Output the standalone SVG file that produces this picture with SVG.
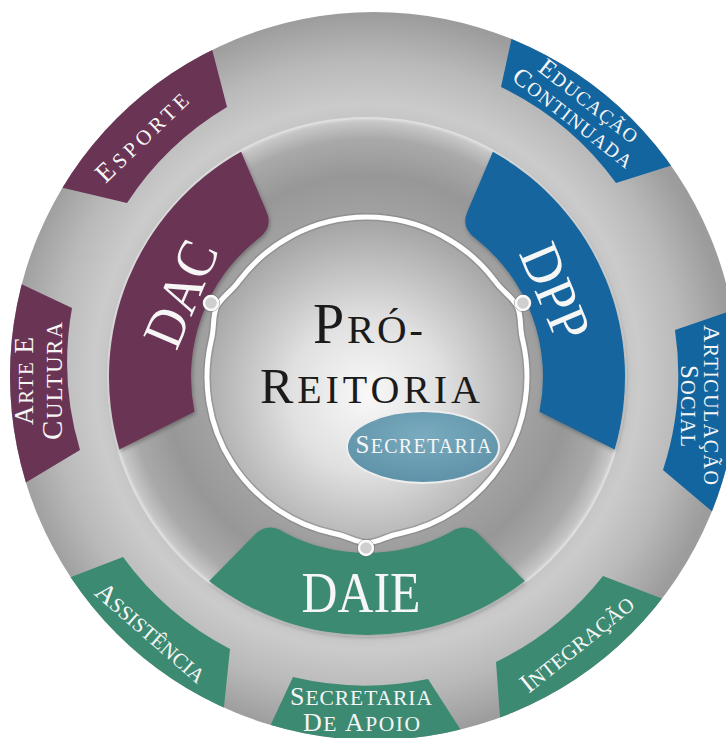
<svg xmlns="http://www.w3.org/2000/svg" width="726" height="738" viewBox="0 0 726 738">
<defs>
<style>
.t{font-family:"Liberation Serif","DejaVu Serif",serif;fill:#f6f6f6}
.dk{font-family:"Liberation Serif","DejaVu Serif",serif;fill:#1b1b1b}
.pur{fill:#6a3454}
.blu{fill:#13659f}
.grn{fill:#3c8a72}
.tab{clip-path:url(#clipOuter)}
.dot{fill:#cfcfcf;stroke:#fbfbfb;stroke-width:2.4}
.dotr{fill:none;stroke:#5a5a5a;stroke-opacity:.45;stroke-width:1}
</style>
<radialGradient id="gOuter" gradientUnits="userSpaceOnUse" cx="367" cy="377" r="364">
<stop offset="0" stop-color="#bdbdbd"/>
<stop offset="0.70" stop-color="#c4c4c4"/>
<stop offset="0.75" stop-color="#cbcbcb"/>
<stop offset="0.87" stop-color="#b9b9b9"/>
<stop offset="1" stop-color="#9c9c9c"/>
</radialGradient>
<radialGradient id="gMid" gradientUnits="userSpaceOnUse" cx="367" cy="377" r="259">
<stop offset="0" stop-color="#aaaaaa"/>
<stop offset="0.62" stop-color="#a2a2a2"/>
<stop offset="0.78" stop-color="#979797"/>
<stop offset="0.92" stop-color="#a9a9a9"/>
<stop offset="0.985" stop-color="#c6c6c6"/>
<stop offset="1" stop-color="#dadada"/>
</radialGradient>
<radialGradient id="gInner" gradientUnits="userSpaceOnUse" cx="367" cy="395" r="172">
<stop offset="0" stop-color="#f8f8f8"/>
<stop offset="0.45" stop-color="#e0e0e0"/>
<stop offset="1" stop-color="#a6a6a6"/>
</radialGradient>
<radialGradient id="gSec" cx="0.5" cy="0.35" r="0.7">
<stop offset="0" stop-color="#7aabbf"/>
<stop offset="1" stop-color="#5c90a6"/>
</radialGradient>
<clipPath id="clipOuter"><circle cx="374" cy="376" r="364"/></clipPath>
<filter id="sh" x="-10%" y="-10%" width="120%" height="120%">
<feDropShadow dx="1" dy="2" stdDeviation="2" flood-color="#000" flood-opacity="0.3"/>
</filter>
</defs>

<g id="background">
<circle cx="374" cy="376" r="364" fill="url(#gOuter)"/>
<circle cx="367" cy="377" r="259" fill="url(#gMid)" stroke="#dedede" stroke-width="2"/>
</g>

<g id="dac" filter="url(#sh)">
<path class="pur" d="M 119.4,449.4 A 258 258 0 0 1 241.1,151.8 L 266.5,211.5 Q 273.6,227.8 258.4,238.5 A 176 176 0 0 0 194.5,411.8 Z"/>
<text class="t" transform="translate(181,294) rotate(-67)" x="0" y="18.5" text-anchor="middle" font-size="56" textLength="110" lengthAdjust="spacingAndGlyphs">DAC</text>
</g>

<g id="dpp" filter="url(#sh)">
<path class="blu" d="M 614.6,449.4 A 258 258 0 0 0 492.9,151.8 L 467.5,211.5 Q 460.4,227.8 475.6,238.5 A 176 176 0 0 1 539.5,411.8 Z"/>
<text class="t" transform="translate(555,292) rotate(67)" x="0" y="18.5" text-anchor="middle" font-size="56" textLength="100" lengthAdjust="spacingAndGlyphs">DPP</text>
</g>

<g id="daie" filter="url(#sh)">
<path class="grn" d="M 209.2,581.1 L 254.7,534.7 Q 267.2,522 283,531.7 A 176 176 0 0 0 451,531.7 Q 466.8,522 479.3,534.7 L 524.8,581.1 A 258 258 0 0 1 209.2,581.1 Z"/>
<text class="t" x="361" y="612" text-anchor="middle" font-size="57" textLength="119" lengthAdjust="spacingAndGlyphs">DAIE</text>
</g>

<g id="pro-reitoria">
<path d="M 400.3,533.5 C 386.5,535.8 378.6,542.6 367,543 C 355.4,542.6 347.5,535.8 333.7,533.5 A 160 160 0 0 1 211.1,341 C 214.8,327.6 212,317.5 216.6,306.8 C 221.8,296.5 231.3,292.2 239.2,280.7 A 160 160 0 0 1 494.8,280.7 C 502.7,292.2 512.2,296.5 517.4,306.8 C 522,317.5 519.2,327.6 522.9,341 A 160 160 0 0 1 400.3,533.5 Z" fill="url(#gInner)" stroke="#7d7d7d" stroke-opacity="0.5" stroke-width="8"/>
<path d="M 400.3,533.5 C 386.5,535.8 378.6,542.6 367,543 C 355.4,542.6 347.5,535.8 333.7,533.5 A 160 160 0 0 1 211.1,341 C 214.8,327.6 212,317.5 216.6,306.8 C 221.8,296.5 231.3,292.2 239.2,280.7 A 160 160 0 0 1 494.8,280.7 C 502.7,292.2 512.2,296.5 517.4,306.8 C 522,317.5 519.2,327.6 522.9,341 A 160 160 0 0 1 400.3,533.5 Z" fill="none" stroke="#ffffff" stroke-width="5"/>
<text class="dk" x="368" y="343" text-anchor="middle" textLength="110" lengthAdjust="spacing"><tspan font-size="56">P</tspan><tspan font-size="41">RÓ-</tspan></text>
<text class="dk" x="370" y="403" text-anchor="middle" textLength="220" lengthAdjust="spacing"><tspan font-size="50">R</tspan><tspan font-size="40">EITORIA</tspan></text>
</g>

<g id="secretaria">
<ellipse cx="423" cy="447" rx="76" ry="36" fill="url(#gSec)" stroke="#eeeeee" stroke-width="2"/>
<text class="t" x="423.5" y="453" text-anchor="middle" textLength="136" lengthAdjust="spacing"><tspan font-size="25">S</tspan><tspan font-size="20">ECRETARIA</tspan></text>
</g>

<g id="connectors">
<circle cx="211" cy="303" r="8.6" class="dotr"/>
<circle cx="211" cy="303" r="7" class="dot"/>
<circle cx="523" cy="303" r="8.6" class="dotr"/>
<circle cx="523" cy="303" r="7" class="dot"/>
<circle cx="366" cy="548" r="8.6" class="dotr"/>
<circle cx="366" cy="548" r="7" class="dot"/>
</g>

<g id="esporte">
<path class="pur tab" d="M 205,22 L 227,107 A 307 307 0 0 0 127,203 L 30,180 Z"/>
<text class="t" transform="translate(143,138) rotate(-44)" x="0" y="7" text-anchor="middle" textLength="118" lengthAdjust="spacing"><tspan font-size="27">E</tspan><tspan font-size="21">SPORTE</tspan></text>
</g>
<g id="arte-cultura">
<path class="pur tab" d="M 0,274 L 72,308 A 307 307 0 0 0 80,450 L 0,498 Z"/>
<text class="t" transform="translate(0,381) rotate(-90)" x="0" y="33" text-anchor="middle" textLength="88" lengthAdjust="spacing"><tspan font-size="27">A</tspan><tspan font-size="21">RTE </tspan><tspan font-size="27">E</tspan></text>
<text class="t" transform="translate(0,381) rotate(-90)" x="0" y="62" text-anchor="middle" textLength="118" lengthAdjust="spacing"><tspan font-size="29">C</tspan><tspan font-size="22.5">ULTURA</tspan></text>
</g>
<g id="assistencia">
<path class="grn tab" d="M 40,589 L 123,557 A 307 307 0 0 0 230,649 L 220,745 Z"/>
<text class="t" transform="translate(150,634) rotate(41)" x="0" y="7" text-anchor="middle" textLength="138" lengthAdjust="spacing"><tspan font-size="27">A</tspan><tspan font-size="21">SSISTÊNCIA</tspan></text>
</g>
<g id="secretaria-apoio">
<path class="grn tab" d="M 258,752 L 293,677 A 307 307 0 0 0 428,679 L 475,752 Z"/>
<text class="t" x="361" y="705" text-anchor="middle" textLength="142" lengthAdjust="spacing"><tspan font-size="26">S</tspan><tspan font-size="21.5">ECRETARIA</tspan></text>
<text class="t" x="361.5" y="731" text-anchor="middle" textLength="117" lengthAdjust="spacing"><tspan font-size="26">D</tspan><tspan font-size="21.5">E </tspan><tspan font-size="26">A</tspan><tspan font-size="21.5">POIO</tspan></text>
</g>
<g id="integracao">
<path class="grn tab" d="M 502,745 L 496,662 A 307 307 0 0 0 603,576 L 700,613 Z"/>
<text class="t" transform="translate(578,645) rotate(-39)" x="0" y="7" text-anchor="middle" textLength="138" lengthAdjust="spacing"><tspan font-size="27">I</tspan><tspan font-size="21">NTEGRAÇÃO</tspan></text>
</g>
<g id="articulacao-social">
<path class="blu tab" d="M 740,535 L 663,470 A 307 307 0 0 0 675,330 L 745,306 Z"/>
<text class="t" transform="translate(0,405) rotate(90)" x="0" y="-704" text-anchor="middle" textLength="160" lengthAdjust="spacing"><tspan font-size="24">A</tspan><tspan font-size="20">RTICULAÇÃO</tspan></text>
<text class="t" transform="translate(0,406) rotate(90)" x="0" y="-681" text-anchor="middle" textLength="82" lengthAdjust="spacing"><tspan font-size="25">S</tspan><tspan font-size="20.5">OCIAL</tspan></text>
</g>
<g id="educacao-continuada">
<path class="blu tab" d="M 720,150 L 616,183 A 307 307 0 0 0 501,87 L 520,0 Z"/>
<text class="t" transform="translate(581.5,110.4) rotate(38)" x="0" y="-4" text-anchor="middle" textLength="120" lengthAdjust="spacing"><tspan font-size="25">E</tspan><tspan font-size="19.5">DUCAÇÃO</tspan></text>
<text class="t" transform="translate(581.5,110.4) rotate(38)" x="-2" y="19" text-anchor="middle" textLength="146" lengthAdjust="spacing"><tspan font-size="25">C</tspan><tspan font-size="19.5">ONTINUADA</tspan></text>
</g>
</svg>
